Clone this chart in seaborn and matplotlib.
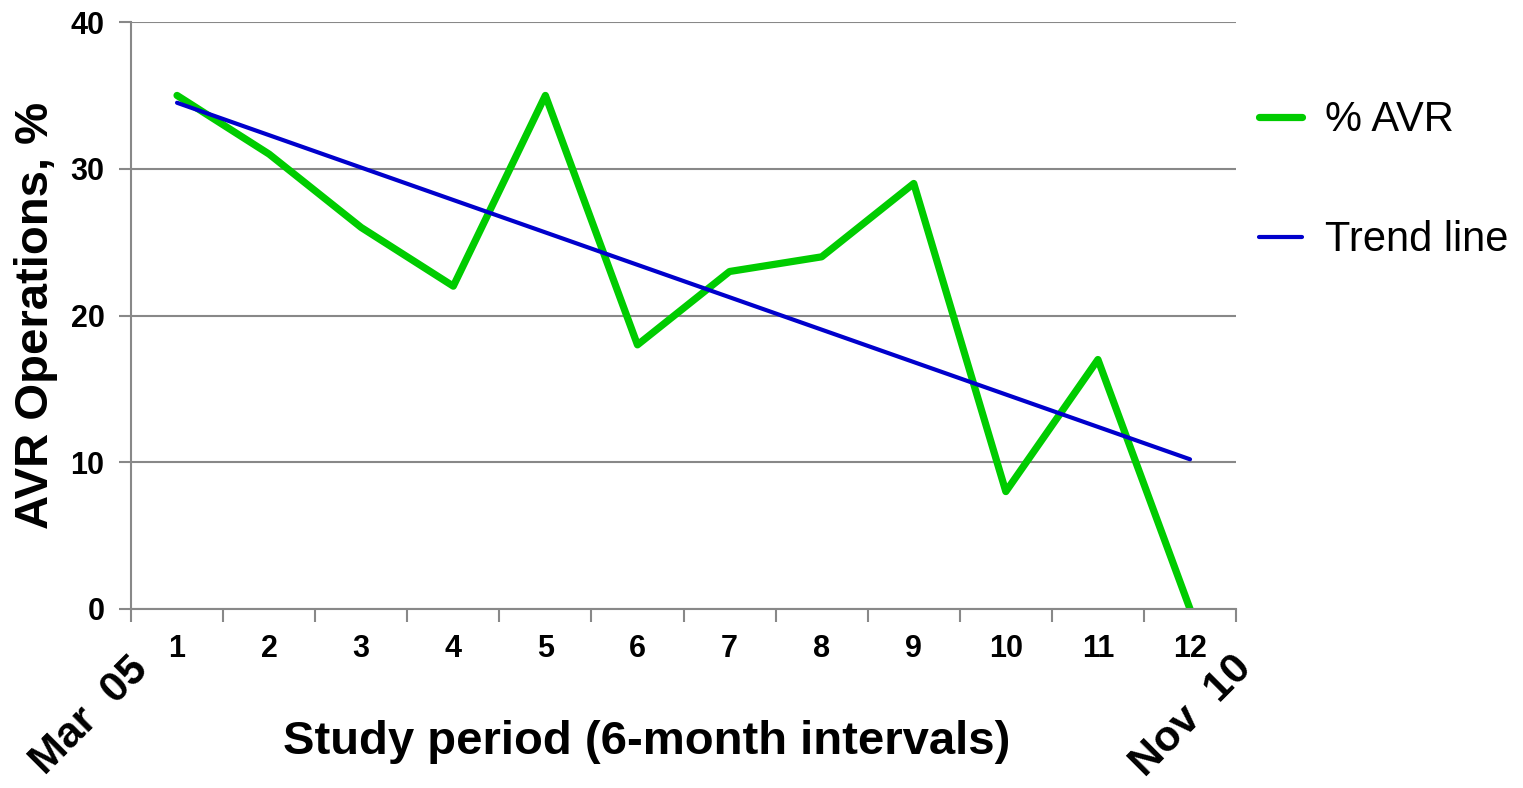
import matplotlib
matplotlib.use("Agg")
import matplotlib.pyplot as plt
import seaborn as sns
import pandas as pd

# data
periods = [1, 2, 3, 4, 5, 6, 7, 8, 9, 10, 11, 12]
avr_pct = [35, 31, 26, 22, 35, 18, 23, 24, 29, 8, 17, 0]
trend_x = [1, 12]
trend_y = [34.5, 10.2]
y_ticks = [0, 10, 20, 30, 40]

sns.set_style("white")
plt.rcParams['font.family'] = ['Liberation Sans', 'DejaVu Sans']
plt.rcParams['text.color'] = 'black'
plt.rcParams['xtick.color'] = 'black'
plt.rcParams['ytick.color'] = 'black'
plt.rcParams['axes.labelcolor'] = 'black'

df = pd.DataFrame({"period": periods, "avr": avr_pct})
trend = pd.DataFrame({"period": trend_x, "avr": trend_y})

fig = plt.figure(figsize=(15.23, 7.88), dpi=100)
ax = fig.add_axes([0.086, 0.2272, 0.7256, 0.7448])

sns.lineplot(data=df, x="period", y="avr", ax=ax, color="#00CC00", linewidth=5.2,
             label="% AVR")
sns.lineplot(data=trend, x="period", y="avr", ax=ax, color="#0000CC", linewidth=3,
             label="Trend line")

gray = "#888888"
ax.set_xlim(0.5, 12.5)
ax.set_ylim(0, 40)
ax.set_yticks(y_ticks)
ax.set_yticklabels([str(v) for v in y_ticks], fontsize=22, fontweight="bold")
ax.yaxis.grid(True, color=gray, linewidth=1.5)
ax.set_axisbelow(True)

# tick marks at period boundaries, labels at centres
ax.set_xticks([p - 0.5 for p in periods] + [12.5])
ax.set_xticklabels([])
ax.set_xticks(periods, minor=True)
ax.set_xticklabels([str(p) for p in periods], minor=True, fontsize=22, fontweight="bold")
ax.tick_params(axis="x", which="major", length=9, width=1.5, color=gray, direction="out", bottom=True)
ax.tick_params(axis="x", which="minor", length=0, pad=18)
ax.tick_params(axis="y", length=9, width=1.5, color=gray, direction="out", left=True, pad=10)

for side in ["top", "right"]:
    ax.spines[side].set_visible(False)
for side in ["left", "bottom"]:
    ax.spines[side].set_color(gray)
    ax.spines[side].set_linewidth(1.5)

ax.set_xlabel("Study period (6-month intervals)", fontsize=34, fontweight="bold")
ax.xaxis.set_label_coords(0.467, -0.189)
ax.set_ylabel("AVR Operations, %", fontsize=34, fontweight="bold")
ax.yaxis.set_label_coords(-0.066, 0.5)

fig.text(0.059, 0.091, "Mar  05", rotation=45, fontsize=31, fontweight="bold",
         ha="center", va="center")
fig.text(0.782, 0.091, "Nov  10", rotation=45, fontsize=31, fontweight="bold",
         ha="center", va="center")

leg = ax.legend(loc="upper left", bbox_to_anchor=(0.8133, 0.899),
                bbox_transform=fig.transFigure, frameon=False, fontsize=30,
                handlelength=1.02, handletextpad=0.55, labelspacing=1.92, borderpad=0)

fig.savefig("out.png", dpi=100)
